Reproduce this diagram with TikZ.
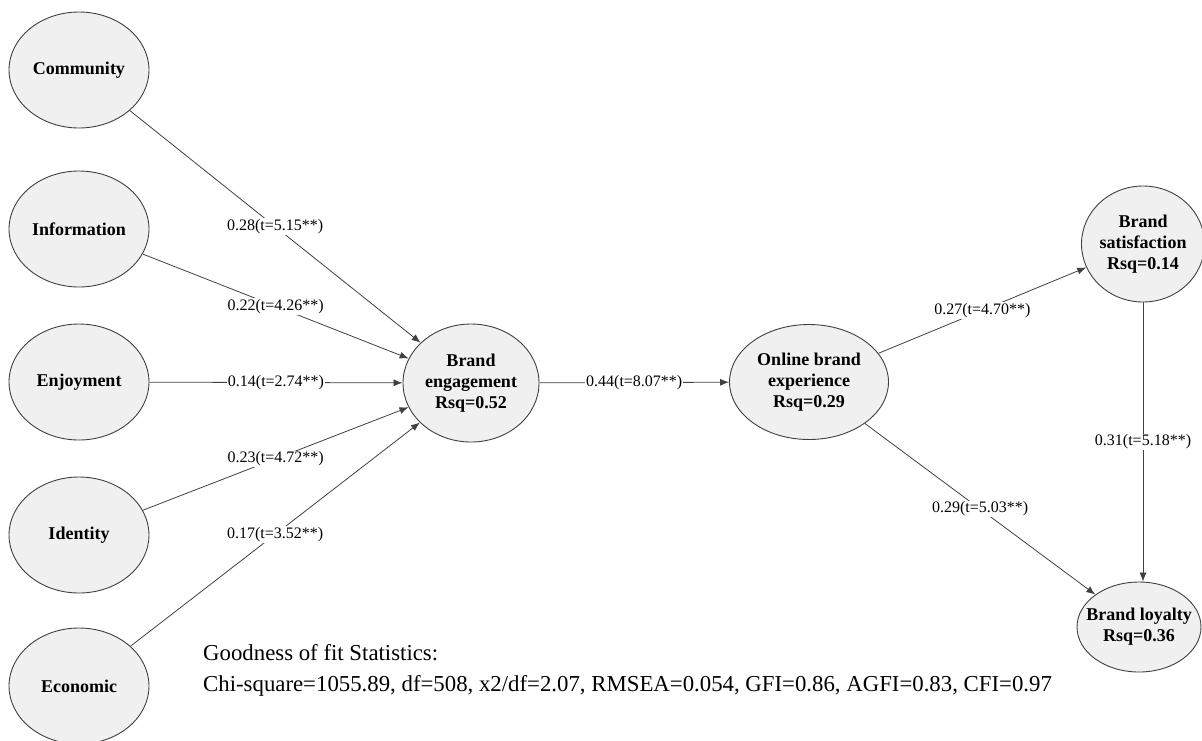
\documentclass[tikz,border=0pt]{standalone}
\usepackage{fontspec}
\setmainfont{Liberation Serif}
\usetikzlibrary{arrows.meta,shapes.geometric}

\begin{document}
\begin{tikzpicture}[x=1pt, y=-1pt,
		latent/.style={ellipse, draw=black!75, line width=0.9pt, fill=black!6, inner sep=0pt, align=center, font=\fontsize{18}{21}\selectfont\bfseries},
		effect/.style={draw=black!75, line width=0.8pt, -{Latex[length=9pt,width=7pt]}},
		coef/.style={midway, fill=white, inner sep=1pt, font=\fontsize{16}{18}\selectfont}]
		%%%%% START %%%%%
		
		\useasboundingbox (0, 0) rectangle (1202, 740);
		
		% antecedents
		\node[latent, minimum width=140, minimum height=116] (com) at (79, 70) {Community};
		\node[latent, minimum width=140, minimum height=116] (inf) at (79, 229) {Information};
		\node[latent, minimum width=140, minimum height=116] (enj) at (79, 382) {Enjoyment};
		\node[latent, minimum width=140, minimum height=116] (ide) at (79, 535) {Identity};
		\node[latent, minimum width=140, minimum height=116] (eco) at (79, 686) {Economic};
		
		% mediators and outcomes
		\node[latent, minimum width=136, minimum height=118] (be) at (471, 383) {Brand\\engagement\\Rsq=0.52};
		\node[latent, minimum width=159, minimum height=115] (obe) at (809, 382) {Online brand\\experience\\Rsq=0.29};
		\node[latent, minimum width=116, minimum height=116] (bs) at (1143, 244) {Brand\\satisfaction\\Rsq=0.14};
		\node[latent, minimum width=124, minimum height=90] (bl) at (1139, 627) {\makebox[0pt]{Brand loyalty}\\\makebox[0pt]{Rsq=0.36}};
		
		% paths
		\draw[effect] (com) -- node[coef] {0.28(t=5.15**)} (be);
		\draw[effect] (inf) -- node[coef] {0.22(t=4.26**)} (be);
		\draw[effect] (enj) -- node[coef] {0.14(t=2.74**)} (be);
		\draw[effect] (ide) -- node[coef] {0.23(t=4.72**)} (be);
		\draw[effect] (eco) -- node[coef] {0.17(t=3.52**)} (be);
		
		\draw[effect] (be) -- node[coef] {0.44(t=8.07**)} (obe);
		\draw[effect] (obe) -- node[coef] {0.27(t=4.70**)} (bs);
		\draw[effect] (obe) -- node[coef] {0.29(t=5.03**)} (bl);
		\draw[effect] (bs) -- node[coef] {0.31(t=5.18**)} (bs |- bl.north);
		
		% fit
		\node[anchor=base west, align=left, inner sep=0pt, font=\fontsize{22.8}{31}\selectfont] (gof) at (203, 691) {Goodness of fit Statistics:\\Chi-square=1055.89, df=508, x2/df=2.07, RMSEA=0.054, GFI=0.86, AGFI=0.83, CFI=0.97};
		
		%%%%% END %%%%%
	\end{tikzpicture}
\end{document}
